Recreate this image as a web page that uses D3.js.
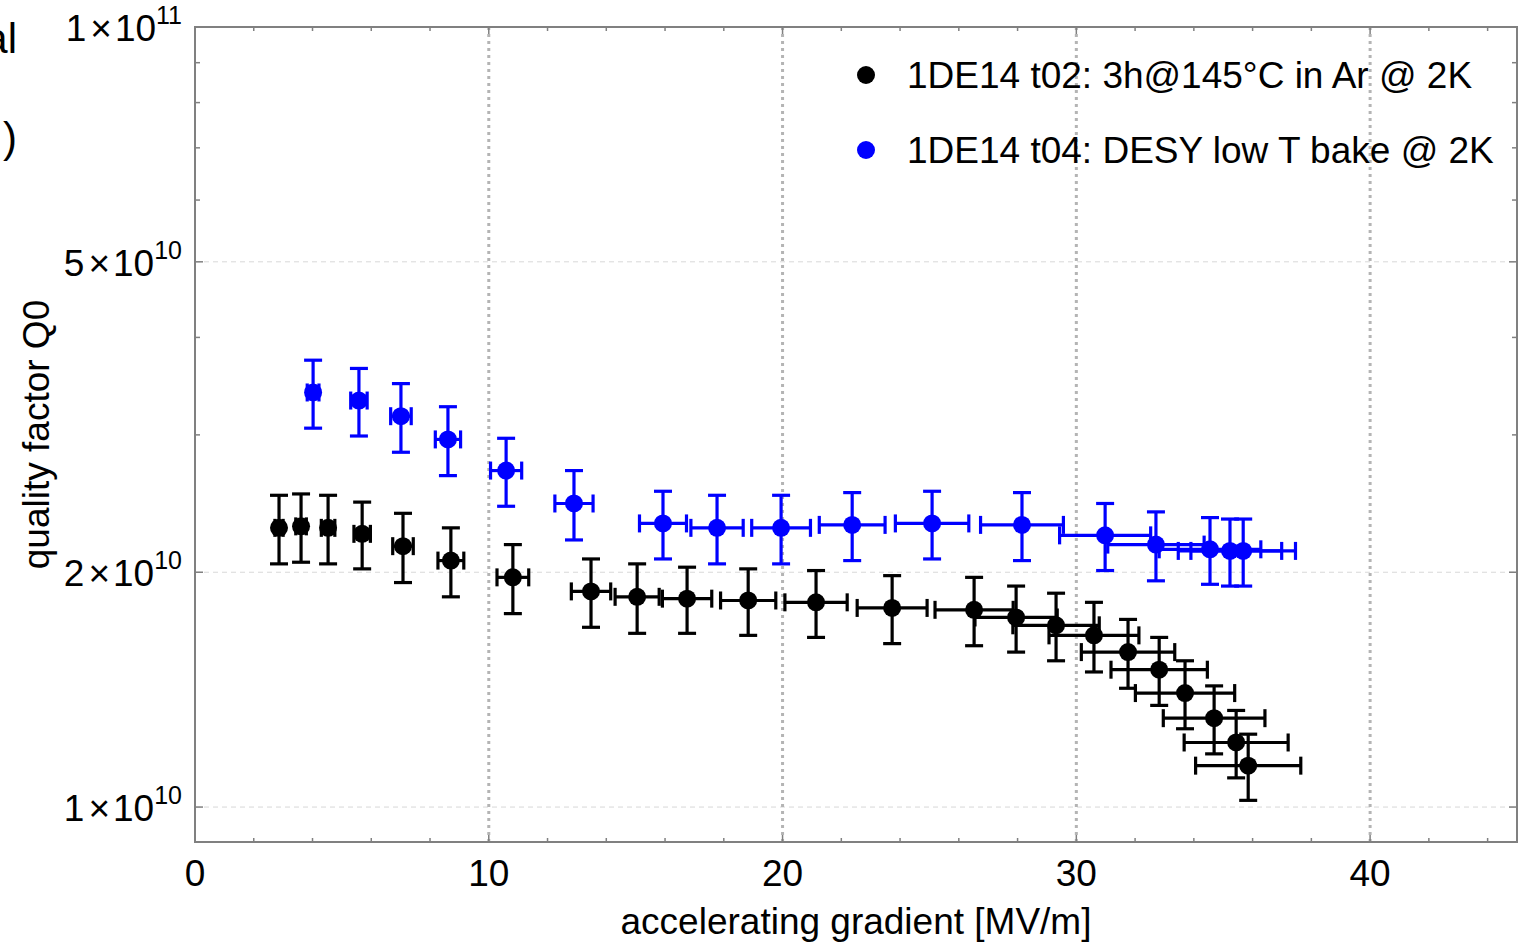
<!DOCTYPE html>
<html>
<head>
<meta charset="utf-8">
<script src="https://cdn.jsdelivr.net/npm/d3@7"></script>
<style>
  body { margin: 0; background: #fff; }
  svg { display: block; font-family: "Liberation Sans", Arial, sans-serif; }
</style>
</head>
<body>
<div id="chart"></div>
<script>
// 1DE14 t02: 3h@145°C in Ar @ 2K
const gradT02 = [2.86, 3.61, 4.53, 5.69, 7.08, 8.71, 10.82, 13.48, 15.05, 16.75, 18.83, 21.14, 23.73, 26.52, 27.95, 29.31, 30.60, 31.76, 32.82, 33.70, 34.69, 35.44, 35.85];
const q0T02 = [2.28e10, 2.29e10, 2.28e10, 2.24e10, 2.16e10, 2.07e10, 1.97e10, 1.89e10, 1.86e10, 1.85e10, 1.84e10, 1.83e10, 1.80e10, 1.79e10, 1.75e10, 1.71e10, 1.66e10, 1.58e10, 1.50e10, 1.40e10, 1.30e10, 1.21e10, 1.13e10];
const gradErrT02 = [0.14, 0.18, 0.23, 0.28, 0.35, 0.44, 0.54, 0.67, 0.75, 0.84, 0.94, 1.06, 1.19, 1.33, 1.40, 1.47, 1.53, 1.59, 1.64, 1.69, 1.73, 1.77, 1.79];
const q0ErrT02 = [0.23e10, 0.23e10, 0.23e10, 0.22e10, 0.22e10, 0.21e10, 0.20e10, 0.19e10, 0.19e10, 0.18e10, 0.18e10, 0.18e10, 0.18e10, 0.18e10, 0.17e10, 0.17e10, 0.17e10, 0.16e10, 0.15e10, 0.14e10, 0.13e10, 0.12e10, 0.11e10];

// 1DE14 t04: DESY low T bake @ 2K
const gradT04 = [4.02, 5.58, 7.01, 8.61, 10.59, 12.90, 15.93, 17.77, 19.95, 22.37, 25.09, 28.15, 30.98, 32.71, 34.55, 35.23, 35.68];
const q0T04 = [3.40e10, 3.32e10, 3.17e10, 2.96e10, 2.70e10, 2.45e10, 2.31e10, 2.28e10, 2.28e10, 2.30e10, 2.31e10, 2.30e10, 2.23e10, 2.17e10, 2.14e10, 2.13e10, 2.13e10];
const gradErrT04 = [0.20, 0.28, 0.35, 0.43, 0.53, 0.65, 0.80, 0.89, 1.00, 1.12, 1.25, 1.41, 1.55, 1.64, 1.73, 1.76, 1.78];
const q0ErrT04 = [0.34e10, 0.33e10, 0.32e10, 0.30e10, 0.27e10, 0.25e10, 0.23e10, 0.23e10, 0.23e10, 0.23e10, 0.23e10, 0.23e10, 0.22e10, 0.22e10, 0.21e10, 0.21e10, 0.21e10];

const seriesNames = ["1DE14 t02: 3h@145°C in Ar @ 2K", "1DE14 t04: DESY low T bake @ 2K"];
const seriesColors = ["#000000", "#0000ff"];

const xTicks = [0, 10, 20, 30, 40];
const xMinorTicks = [2, 4, 6, 8, 12, 14, 16, 18, 22, 24, 26, 28, 32, 34, 36, 38, 42, 44];
const yTicks = [1e10, 2e10, 5e10, 1e11];
const yTickMantissa = ["1", "2", "5", "1"];
const yTickExponent = ["10", "10", "10", "11"];
const yMinorTicks = [3e10, 4e10, 6e10, 7e10, 8e10, 9e10];

const W = 1532, H = 942;
const margin = { top: 27, right: 15, bottom: 100, left: 195 };
const innerW = W - margin.left - margin.right;
const innerH = H - margin.top - margin.bottom;

const svg = d3.select("#chart").append("svg")
    .attr("width", W)
    .attr("height", H);

const g = svg.append("g")
    .attr("transform", `translate(${margin.left},${margin.top})`);

const x = d3.scaleLinear().domain([0, 45]).range([0, innerW]);
const y = d3.scaleLog().domain([9.02e9, 1e11]).range([innerH, 0]);

// grid
g.selectAll(".hgrid")
    .data(yTicks.slice(0, 3))
    .enter().append("line")
    .attr("x1", 0).attr("x2", innerW)
    .attr("y1", d => y(d)).attr("y2", d => y(d))
    .attr("stroke", "#d8d8d8")
    .attr("stroke-width", 1)
    .attr("stroke-dasharray", "5,4");

g.selectAll(".vgrid")
    .data(xTicks.slice(1))
    .enter().append("line")
    .attr("x1", d => x(d)).attr("x2", d => x(d))
    .attr("y1", 0).attr("y2", innerH)
    .attr("stroke", "#b4b4b4")
    .attr("stroke-width", 3)
    .attr("stroke-dasharray", "3,4");

// frame and ticks
g.append("rect")
    .attr("width", innerW).attr("height", innerH)
    .attr("fill", "none")
    .attr("stroke", "#808080")
    .attr("stroke-width", 2);

const tickColor = "#808080";
[...xTicks, ...xMinorTicks].forEach((t, i) => {
    const len = i < xTicks.length ? 7 : 4;
    g.append("line").attr("x1", x(t)).attr("x2", x(t)).attr("y1", innerH).attr("y2", innerH - len)
        .attr("stroke", tickColor).attr("stroke-width", 1.5);
    g.append("line").attr("x1", x(t)).attr("x2", x(t)).attr("y1", 0).attr("y2", len)
        .attr("stroke", tickColor).attr("stroke-width", 1.5);
});
[...yTicks, ...yMinorTicks].forEach((t, i) => {
    const len = i < yTicks.length ? 8 : 5;
    g.append("line").attr("x1", 0).attr("x2", len).attr("y1", y(t)).attr("y2", y(t))
        .attr("stroke", tickColor).attr("stroke-width", 1.5);
    g.append("line").attr("x1", innerW).attr("x2", innerW - len).attr("y1", y(t)).attr("y2", y(t))
        .attr("stroke", tickColor).attr("stroke-width", 1.5);
});

// tick labels
g.selectAll(".xlab")
    .data(xTicks)
    .enter().append("text")
    .attr("x", d => x(d))
    .attr("y", innerH + 44)
    .attr("text-anchor", "middle")
    .attr("font-size", 37)
    .text(d => d);

yTicks.forEach((t, i) => {
    const txt = g.append("text")
        .attr("x", -13)
        .attr("y", y(t) + 14)
        .attr("text-anchor", "end")
        .attr("font-size", 37);
    txt.append("tspan").text(yTickMantissa[i]);
    txt.append("tspan").attr("dx", 4).text("×");
    txt.append("tspan").attr("dx", 3).text("10");
    txt.append("tspan").attr("dy", -17).attr("font-size", 25).text(yTickExponent[i]);
});

// axis titles
svg.append("text")
    .attr("x", margin.left + innerW / 2)
    .attr("y", 934)
    .attr("text-anchor", "middle")
    .attr("font-size", 37)
    .text("accelerating gradient [MV/m]");

svg.append("text")
    .attr("transform", `translate(49,${margin.top + innerH / 2}) rotate(-90)`)
    .attr("text-anchor", "middle")
    .attr("font-size", 37)
    .text("quality factor Q0");

// clipped remnants of neighbouring text
svg.append("text").attr("x", 17).attr("y", 53).attr("text-anchor", "end").attr("font-size", 42).text("al");
svg.append("text").attr("x", 17).attr("y", 152).attr("text-anchor", "end").attr("font-size", 42).text(")");

// data
function drawSeries(gx, gy, gxErr, gyErr, color) {
    const data = gx.map((v, i) => ({ x: v, y: gy[i], ex: gxErr[i], ey: gyErr[i] }));
    const s = g.append("g")
        .attr("stroke", color)
        .attr("stroke-width", 3.2)
        .attr("fill", color);
    const cap = 9;
    data.forEach(d => {
        const cx = x(d.x), cy = y(d.y);
        const x0 = x(d.x - d.ex), x1 = x(d.x + d.ex);
        const y0 = y(d.y - d.ey), y1 = y(d.y + d.ey);
        s.append("line").attr("x1", cx).attr("x2", cx).attr("y1", y0).attr("y2", y1);
        s.append("line").attr("x1", cx - cap).attr("x2", cx + cap).attr("y1", y0).attr("y2", y0);
        s.append("line").attr("x1", cx - cap).attr("x2", cx + cap).attr("y1", y1).attr("y2", y1);
        s.append("line").attr("x1", x0).attr("x2", x1).attr("y1", cy).attr("y2", cy);
        s.append("line").attr("x1", x0).attr("x2", x0).attr("y1", cy - cap).attr("y2", cy + cap);
        s.append("line").attr("x1", x1).attr("x2", x1).attr("y1", cy - cap).attr("y2", cy + cap);
    });
    s.selectAll("circle")
        .data(data)
        .enter().append("circle")
        .attr("cx", d => x(d.x))
        .attr("cy", d => y(d.y))
        .attr("r", 9)
        .attr("stroke", "none");
}

drawSeries(gradT02, q0T02, gradErrT02, q0ErrT02, seriesColors[0]);
drawSeries(gradT04, q0T04, gradErrT04, q0ErrT04, seriesColors[1]);

// legend
const legend = svg.append("g").attr("transform", "translate(866,75)");
seriesNames.forEach((name, i) => {
    legend.append("circle").attr("cx", 0).attr("cy", i * 75).attr("r", 9).attr("fill", seriesColors[i]);
    legend.append("text")
        .attr("x", 41)
        .attr("y", i * 75 + 13)
        .attr("font-size", 37)
        .text(name);
});
</script>
</body>
</html>
